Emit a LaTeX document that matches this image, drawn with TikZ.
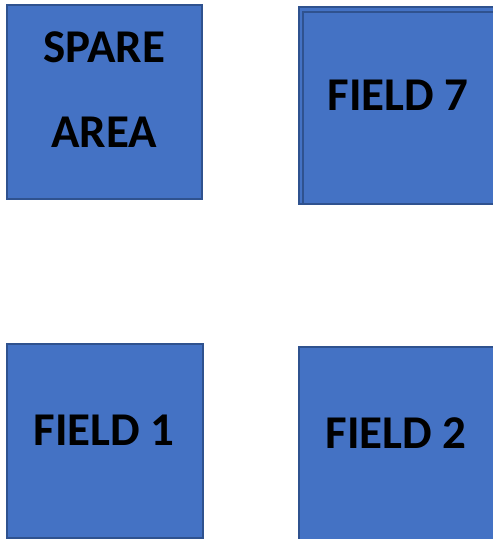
\documentclass[tikz,border=0pt]{standalone}
\usepackage{fontspec}
\setmainfont{Carlito}
\definecolor{boxfill}{HTML}{4472C4}
\definecolor{boxline}{HTML}{2F528F}
\begin{document}
\begin{tikzpicture}[x=1pt,y=1pt,
  fieldbox/.style={draw=boxline, fill=boxfill, line width=2.5pt, rectangle, inner sep=0pt},
  fieldtext/.style={anchor=base, inner sep=0pt, font=\fontsize{47}{85}\selectfont\bfseries, text=black, align=center}]
\useasboundingbox (0,0) rectangle (493,-539);
% boxes
\node[fieldbox, minimum width=195pt, minimum height=194pt] (spare) at (104.5,-102) {};
\node[fieldbox, minimum width=196pt, minimum height=197pt] (f7back) at (397,-105.5) {};
\node[fieldbox, minimum width=192pt, minimum height=192pt] (f7) at (399,-108) {};
\node[fieldbox, minimum width=196pt, minimum height=194pt] (f1) at (105,-441) {};
\node[fieldbox, minimum width=196pt, minimum height=194pt] (f2) at (397,-444) {};
% texts
\node[fieldtext] (sparet) at (104,-147) {SPARE\\AREA};
\node[fieldtext] (f7t) at (398,-110) {FIELD 7};
\node[fieldtext] (f1t) at (104,-445) {FIELD 1};
\node[fieldtext] (f2t) at (396,-448) {FIELD 2};
\end{tikzpicture}
\end{document}
